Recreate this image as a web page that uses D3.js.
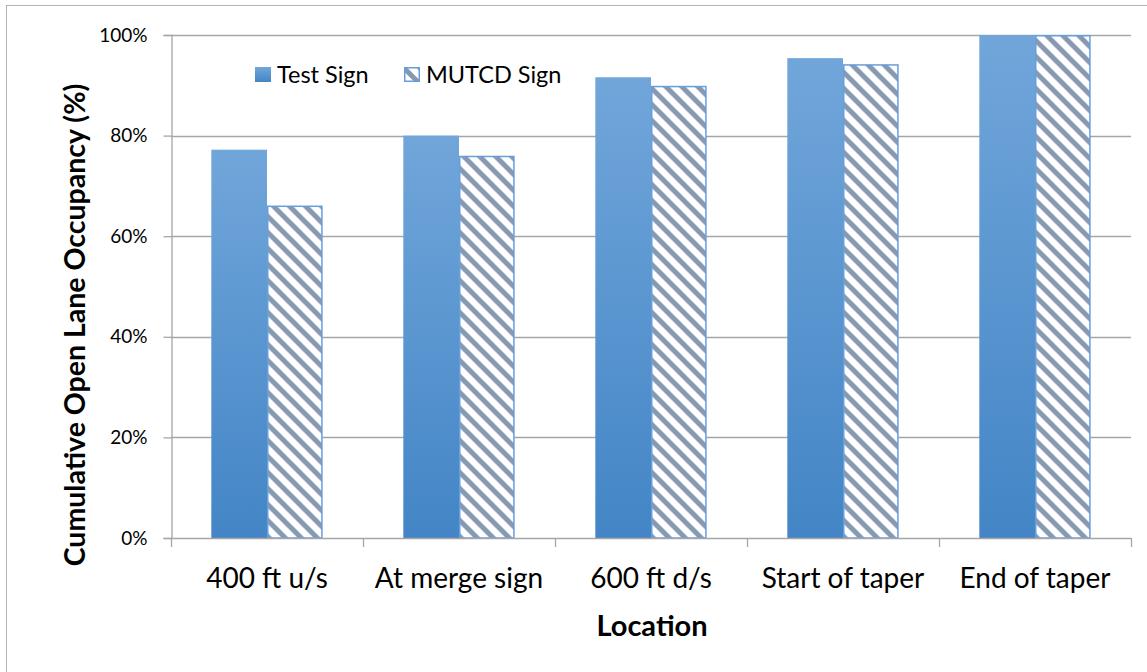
<!DOCTYPE html>
<html>
<head>
<meta charset="utf-8">
<script src="https://cdn.jsdelivr.net/npm/d3@7"></script>
<style>
  html, body { margin: 0; padding: 0; background: #fff; }
  svg { display: block; }
  text { font-family: Lato, "Open Sans", sans-serif; fill: #000; }
</style>
</head>
<body>
<svg id="chart" width="1147" height="672"></svg>
<script>
// Cumulative open-lane occupancy by location, test sign vs MUTCD sign
const locations = ["400 ft u/s", "At merge sign", "600 ft d/s", "Start of taper", "End of taper"];
const testSign = [77.2, 80.0, 91.6, 95.4, 100];
const mutcdSign = [66.1, 76.0, 89.9, 94.2, 100];
const seriesNames = ["Test Sign", "MUTCD Sign"];
const yTicks = [0, 20, 40, 60, 80, 100];

const svg = d3.select("#chart");
const W = 1147, H = 672;
const plot = { left: 171, right: 1131, top: 35, bottom: 538 };

// outer chart frame
svg.append("rect")
  .attr("x", 6.5).attr("y", 5.5)
  .attr("width", W + 10).attr("height", H + 10)
  .attr("fill", "#fff").attr("stroke", "#b3b3b3").attr("stroke-width", 1);

const defs = svg.append("defs");
const grad = defs.append("linearGradient")
  .attr("id", "testFill").attr("x1", 0).attr("y1", 0).attr("x2", 0).attr("y2", 1);
grad.append("stop").attr("offset", "0%").attr("stop-color", "#71a6da");
grad.append("stop").attr("offset", "100%").attr("stop-color", "#4385c6");

const pat = defs.append("pattern")
  .attr("id", "stripes").attr("patternUnits", "userSpaceOnUse")
  .attr("width", 16).attr("height", 16);
pat.append("rect").attr("width", 16).attr("height", 16).attr("fill", "#fff");
pat.append("path")
  .attr("d", "M-4,-4 L20,20 M-4,12 L4,20 M12,-4 L20,4")
  .attr("stroke", "#8799b2").attr("stroke-width", 5);

const x0 = d3.scaleBand().domain(locations)
  .range([plot.left, plot.right]).paddingInner(0.42).paddingOuter(0.21);
const x1 = d3.scaleBand().domain(seriesNames).range([0, x0.bandwidth()]);
const y = d3.scaleLinear().domain([0, 100]).range([plot.bottom, plot.top]);

// horizontal gridlines
svg.append("g").selectAll("line").data(yTicks.slice(1)).join("line")
  .attr("x1", plot.left).attr("x2", plot.right)
  .attr("y1", d => Math.round(y(d)) + 0.5).attr("y2", d => Math.round(y(d)) + 0.5)
  .attr("stroke", "#a6a6a6").attr("stroke-width", 1.3);

// bars
const groups = svg.append("g").selectAll("g").data(locations).join("g")
  .attr("transform", d => `translate(${x0(d)},0)`);

groups.append("rect")
  .attr("x", x1("Test Sign"))
  .attr("y", (d, i) => y(testSign[i]))
  .attr("width", x1.bandwidth())
  .attr("height", (d, i) => y(0) - y(testSign[i]))
  .attr("fill", "url(#testFill)");

groups.append("rect")
  .attr("x", x1("MUTCD Sign") + 0.75)
  .attr("y", (d, i) => y(mutcdSign[i]) + 0.75)
  .attr("width", x1.bandwidth() - 1.5)
  .attr("height", (d, i) => y(0) - y(mutcdSign[i]) - 0.75)
  .attr("fill", "url(#stripes)")
  .attr("stroke", "#65a0da").attr("stroke-width", 1.5);

// y axis
const yAxis = d3.axisLeft(y).tickValues(yTicks).tickSize(8).tickPadding(16)
  .tickFormat(d => d + "%");
const yg = svg.append("g").attr("transform", `translate(${plot.left + 0.5},0)`).call(yAxis);
yg.select(".domain").attr("stroke", "#a6a6a6").attr("stroke-width", 1.3);
yg.selectAll(".tick line").attr("stroke", "#a6a6a6").attr("stroke-width", 1.3);
yg.selectAll(".tick text").style("font-size", "19px").attr("fill", "#000")
  .style("font-family", "Lato, sans-serif");

// x axis with boundary ticks between categories
svg.append("line")
  .attr("x1", plot.left).attr("x2", plot.right)
  .attr("y1", plot.bottom + 0.5).attr("y2", plot.bottom + 0.5)
  .attr("stroke", "#a6a6a6").attr("stroke-width", 1.3);
const step = x0.step();
const boundaries = d3.range(locations.length + 1).map(i => plot.left + i * step);
svg.append("g").selectAll("line").data(boundaries).join("line")
  .attr("x1", d => Math.round(d) + 0.5).attr("x2", d => Math.round(d) + 0.5)
  .attr("y1", plot.bottom).attr("y2", plot.bottom + 9)
  .attr("stroke", "#a6a6a6").attr("stroke-width", 1.3);

svg.append("g").selectAll("text").data(locations).join("text")
  .attr("x", d => x0(d) + x0.bandwidth() / 2)
  .attr("y", 588)
  .attr("text-anchor", "middle")
  .style("font-size", "28px")
  .text(d => d);

// axis titles
svg.append("text")
  .attr("x", 652).attr("y", 636)
  .attr("text-anchor", "middle")
  .style("font-size", "29px").style("font-weight", "bold")
  .text("Location");

svg.append("text")
  .attr("transform", `translate(85,325) rotate(-90)`)
  .attr("text-anchor", "middle")
  .style("font-size", "28.5px").style("font-weight", "bold")
  .text("Cumulative Open Lane Occupancy (%)");

// legend
const legend = svg.append("g");
const legendItems = [
  { name: "Test Sign", x: 255, fill: "url(#testFill)", stroke: "none" },
  { name: "MUTCD Sign", x: 404, fill: "url(#stripes)", stroke: "#65a0da" }
];
legendItems.forEach(it => {
  legend.append("rect")
    .attr("x", it.x + (it.stroke === "none" ? 0 : 0.75)).attr("y", 67 + (it.stroke === "none" ? 0 : 0.75))
    .attr("width", it.stroke === "none" ? 16 : 14.5).attr("height", it.stroke === "none" ? 15 : 13.5)
    .attr("fill", it.fill).attr("stroke", it.stroke).attr("stroke-width", 1.5);
  legend.append("text")
    .attr("x", it.x + 22).attr("y", 83)
    .style("font-size", "23.5px")
    .text(it.name);
});
</script>
</body>
</html>
